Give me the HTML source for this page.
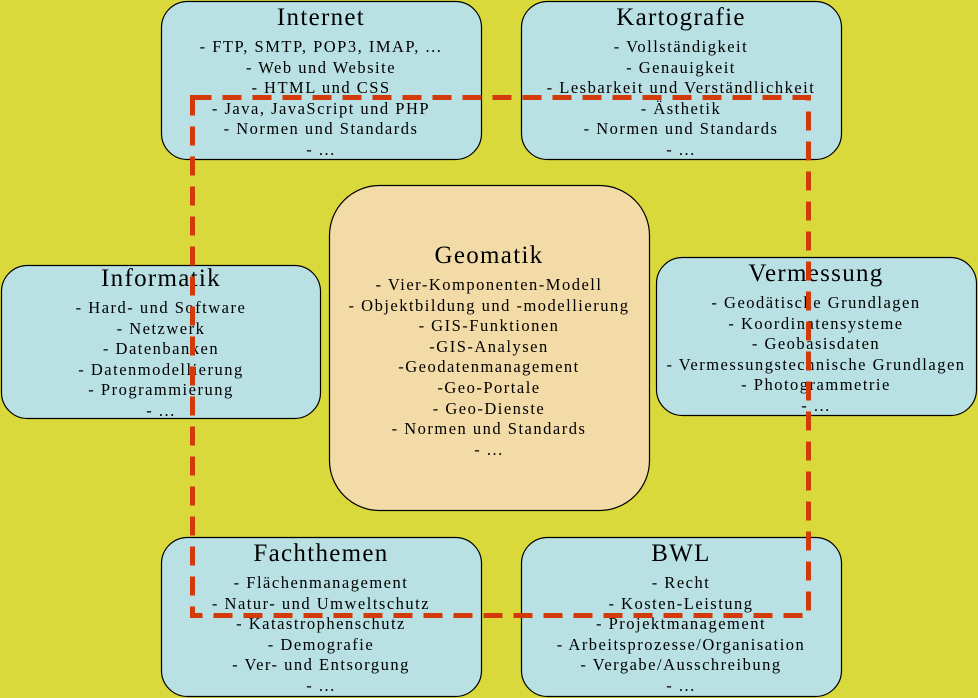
<!DOCTYPE html>
<html><head><meta charset="utf-8"><style>
body{margin:0;width:978px;height:698px;background:#d9d93c;position:relative;overflow:hidden;font-family:"Liberation Serif",serif;color:#000}
svg{position:absolute;left:0;top:0}
.b{position:absolute;text-align:center;font-size:16.5px;letter-spacing:1.5px;line-height:20.6px;z-index:1;white-space:nowrap}
.b .t{font-size:25px;letter-spacing:1.3px;line-height:26px;margin-bottom:6px}
</style></head><body>
<svg width="978" height="698">
<g stroke="#000" stroke-width="1.2">
<rect x="161.5" y="1.5" width="320" height="158" rx="26" fill="#b9e0e3"/>
<rect x="521.5" y="1.5" width="320" height="158" rx="26" fill="#b9e0e3"/>
<rect x="1.5" y="265.5" width="319" height="153" rx="26" fill="#b9e0e3"/>
<rect x="656.5" y="257.5" width="320" height="158" rx="26" fill="#b9e0e3"/>
<rect x="161.5" y="537.5" width="320" height="159" rx="26" fill="#b9e0e3"/>
<rect x="521.5" y="537.5" width="320" height="159" rx="26" fill="#b9e0e3"/>
<rect x="329.5" y="185.5" width="320" height="325" rx="50" fill="#f3dba8"/>
</g>
</svg>
<div class="b" style="left:161px;width:320px;top:5px"><div class="t">Internet</div>- FTP, SMTP, POP3, IMAP, ...<br>- Web und Website<br>- HTML und CSS<br>- Java, JavaScript und PHP<br>- Normen und Standards<br>- ...</div>
<div class="b" style="left:521px;width:320px;top:5px"><div class="t">Kartografie</div>- Vollständigkeit<br>- Genauigkeit<br>- Lesbarkeit und Verständlichkeit<br>- Ästhetik<br>- Normen und Standards<br>- ...</div>
<div class="b" style="left:1px;width:320px;top:266px"><div class="t">Informatik</div>- Hard- und Software<br>- Netzwerk<br>- Datenbanken<br>- Datenmodellierung<br>- Programmierung<br>- ...</div>
<div class="b" style="left:656px;width:320px;top:261px"><div class="t">Vermessung</div>- Geodätische Grundlagen<br>- Koordinatensysteme<br>- Geobasisdaten<br>- Vermessungstechnische Grundlagen<br>- Photogrammetrie<br>- ...</div>
<div class="b" style="left:329px;width:320px;top:243px"><div class="t">Geomatik</div>- Vier-Komponenten-Modell<br>- Objektbildung und -modellierung<br>- GIS-Funktionen<br>-GIS-Analysen<br>-Geodatenmanagement<br>-Geo-Portale<br>- Geo-Dienste<br>- Normen und Standards<br>- ...</div>
<div class="b" style="left:161px;width:320px;top:541px"><div class="t">Fachthemen</div>- Flächenmanagement<br>- Natur- und Umweltschutz<br>- Katastrophenschutz<br>- Demografie<br>- Ver- und Entsorgung<br>- ...</div>
<div class="b" style="left:521px;width:320px;top:541px"><div class="t">BWL</div>- Recht<br>- Kosten-Leistung<br>- Projektmanagement<br>- Arbeitsprozesse/Organisation<br>- Vergabe/Ausschreibung<br>- ...</div>
<svg width="978" height="698" style="z-index:2">
<rect x="192.5" y="97.5" width="616" height="518" fill="none" stroke="#d23a0a" stroke-width="5" stroke-dasharray="19 11"/>
</svg>
</body></html>
